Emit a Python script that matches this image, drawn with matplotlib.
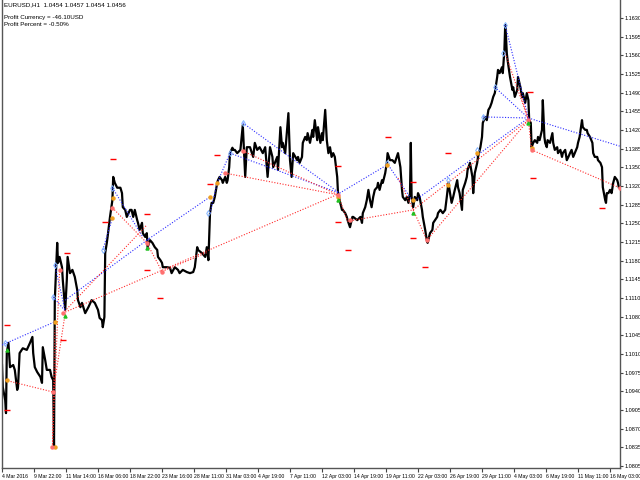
import numpy as np
import matplotlib
matplotlib.use('Agg')
from matplotlib import pyplot as plt

plt.rcParams['font.family'] = ['Liberation Sans Narrow', 'Liberation Sans', 'DejaVu Sans']

# EURUSD H1 path: bar index and price
bars = [0, 1, 4, 5, 6, 8, 10, 14, 16, 19, 20, 22, 26, 31, 35, 38, 39, 41, 44, 48,
        50, 51, 54, 56, 60, 62, 64, 65, 66, 68, 69, 70, 72, 75, 76, 79, 81, 82, 85, 88,
        91, 94, 95, 98, 100, 104, 108, 112, 116, 120, 122, 125, 126, 128, 129, 131, 132, 135, 138, 139,
        141, 144, 148, 150, 151, 154, 156, 160, 162, 164, 166, 169, 170, 172, 175, 176, 179, 181, 182, 185,
        188, 191, 194, 195, 198, 200, 201, 206, 210, 212, 216, 220, 222, 226, 231, 235, 239, 241, 244, 245,
        250, 254, 256, 258, 260, 262, 264, 266, 269, 270, 272, 275, 276, 279, 281, 282, 284, 285, 288, 289,
        291, 294, 298, 301, 304, 306, 310, 314, 316, 319, 322, 326, 329, 331, 332, 335, 338, 339, 344, 345,
        348, 350, 351, 354, 358, 360, 362, 364, 369, 370, 372, 375, 376, 379, 381, 382, 385, 388, 389, 391,
        394, 395, 398, 400, 401, 404, 406, 408, 410, 412, 414, 416, 419, 420, 422, 425, 426, 429, 431, 432,
        435, 438, 439, 444, 448, 450, 451, 454, 456, 458, 460, 462, 464, 466, 469, 470, 472, 475, 476, 479,
        481, 482, 485, 488, 491, 495, 498, 500, 501, 504, 506, 508, 510, 511, 512, 514, 516, 519, 520, 522,
        525, 526, 529, 531, 532, 535, 538, 539, 544, 545, 548, 551, 554, 556, 558, 560, 562, 564, 566, 569,
        570, 572, 575, 576, 579, 581, 582, 585, 588, 589, 591, 594, 595, 598, 600, 601, 604, 606, 608, 610,
        612, 614, 616, 619, 620, 622, 625, 626, 628, 629, 630, 631, 632, 635, 638, 639, 641, 644, 645, 648,
        650, 651, 654, 656, 658, 659, 661, 662, 664, 666, 669, 670, 672, 675, 676, 678, 679, 681, 682, 685,
        688, 689, 691, 694, 695, 698, 700, 701, 704, 706, 708, 710, 712, 714, 716, 719, 720, 722, 725, 726,
        729, 731, 732, 735, 738, 739, 741, 744, 745, 748, 750, 751, 754, 755, 756, 758, 760, 762, 764, 766,
        769, 770, 771]
prices = [1.0988, 1.0947, 1.0923, 1.0899, 1.1010, 1.1029, 1.0984, 1.0988, 1.0979, 1.0942,
          1.0947, 1.1010, 1.1019, 1.1016, 1.1029, 1.1040, 1.1010, 1.0984, 1.0975, 1.0966,
          1.0955, 1.1021, 1.0997, 1.0979, 1.0979, 1.0966, 1.0960, 1.0836, 1.1108, 1.1177,
          1.1214, 1.1177, 1.1188, 1.1169, 1.1145, 1.1090, 1.1145, 1.1188, 1.1158, 1.1164,
          1.1151, 1.1127, 1.1108, 1.1095, 1.1103, 1.1084, 1.1095, 1.1108, 1.1103, 1.1090,
          1.1075, 1.1071, 1.1058, 1.1077, 1.1195, 1.1214, 1.1225, 1.1262, 1.1293, 1.1336,
          1.1325, 1.1316, 1.1316, 1.1306, 1.1280, 1.1275, 1.1262, 1.1275, 1.1275, 1.1262,
          1.1275, 1.1256, 1.1251, 1.1238, 1.1251, 1.1232, 1.1225, 1.1232, 1.1206, 1.1219,
          1.1214, 1.1206, 1.1201, 1.1188, 1.1182, 1.1177, 1.1169, 1.1169, 1.1168, 1.1158,
          1.1169, 1.1164, 1.1158, 1.1164, 1.1160, 1.1158, 1.1160, 1.1169, 1.1206, 1.1201,
          1.1195, 1.1188, 1.1206, 1.1182, 1.1269, 1.1288, 1.1288, 1.1299, 1.1325, 1.1330,
          1.1336, 1.1330, 1.1325, 1.1336, 1.1325, 1.1330, 1.1354, 1.1380, 1.1390, 1.1386,
          1.1386, 1.1380, 1.1386, 1.1432, 1.1336, 1.1391, 1.1391, 1.1373, 1.1399, 1.1386,
          1.1391, 1.1380, 1.1391, 1.1354, 1.1336, 1.1391, 1.1373, 1.1354, 1.1373, 1.1349,
          1.1428, 1.1391, 1.1399, 1.1380, 1.1454, 1.1367, 1.1336, 1.1380, 1.1367, 1.1373,
          1.1362, 1.1373, 1.1399, 1.1410, 1.1404, 1.1417, 1.1399, 1.1423, 1.1410, 1.1441,
          1.1404, 1.1428, 1.1399, 1.1417, 1.1404, 1.1460, 1.1404, 1.1380, 1.1391, 1.1373,
          1.1380, 1.1373, 1.1336, 1.1306, 1.1293, 1.1275, 1.1275, 1.1269, 1.1262, 1.1256,
          1.1243, 1.1262, 1.1262, 1.1256, 1.1262, 1.1251, 1.1269, 1.1280, 1.1293, 1.1312,
          1.1293, 1.1280, 1.1299, 1.1312, 1.1317, 1.1325, 1.1312, 1.1330, 1.1325, 1.1343,
          1.1362, 1.1380, 1.1367, 1.1367, 1.1362, 1.1380, 1.1354, 1.1312, 1.1299, 1.1293,
          1.1299, 1.1288, 1.1306, 1.1399, 1.1299, 1.1280, 1.1299, 1.1293, 1.1306, 1.1299,
          1.1275, 1.1262, 1.1238, 1.1219, 1.1214, 1.1232, 1.1238, 1.1251, 1.1262, 1.1269,
          1.1275, 1.1269, 1.1275, 1.1299, 1.1325, 1.1306, 1.1288, 1.1299, 1.1312, 1.1330,
          1.1317, 1.1306, 1.1275, 1.1312, 1.1325, 1.1336, 1.1349, 1.1362, 1.1336, 1.1306,
          1.1343, 1.1362, 1.1373, 1.1391, 1.1410, 1.1436, 1.1447, 1.1441, 1.1460, 1.1465,
          1.1473, 1.1484, 1.1491, 1.1521, 1.1534, 1.1528, 1.1539, 1.1528, 1.1571, 1.1617,
          1.1595, 1.1565, 1.1552, 1.1521, 1.1497, 1.1502, 1.1484, 1.1497, 1.1521, 1.1502,
          1.1484, 1.1491, 1.1473, 1.1491, 1.1478, 1.1441, 1.1436, 1.1391, 1.1399, 1.1404,
          1.1399, 1.1410, 1.1404, 1.1423, 1.1478, 1.1410, 1.1399, 1.1391, 1.1404, 1.1399,
          1.1417, 1.1399, 1.1386, 1.1391, 1.1380, 1.1386, 1.1373, 1.1380, 1.1386, 1.1367,
          1.1373, 1.1380, 1.1386, 1.1373, 1.1380, 1.1391, 1.1399, 1.1410, 1.1441, 1.1428,
          1.1423, 1.1423, 1.1417, 1.1410, 1.1399, 1.1380, 1.1373, 1.1373, 1.1367, 1.1362,
          1.1354, 1.1317, 1.1293, 1.1288, 1.1306, 1.1306, 1.1312, 1.1306, 1.1325, 1.1336,
          1.1330, 1.1325, 1.1317]

x_labels = ['4 Mar 2016', '9 Mar 22:00', '11 Mar 14:00', '16 Mar 06:00', '18 Mar 22:00',
            '23 Mar 16:00', '28 Mar 11:00', '31 Mar 03:00', '4 Apr 19:00', '7 Apr 11:00',
            '12 Apr 03:00', '14 Apr 19:00', '19 Apr 11:00', '22 Apr 03:00', '26 Apr 19:00',
            '29 Apr 11:00', '4 May 03:00', '6 May 19:00', '11 May 11:00', '16 May 03:00']
y_labels = ['1.0805', '1.0835', '1.0870', '1.0905', '1.0940', '1.0975', '1.1010', '1.1045',
            '1.1080', '1.1110', '1.1145', '1.1180', '1.1215', '1.1250', '1.1285', '1.1320',
            '1.1350', '1.1385', '1.1420', '1.1455', '1.1490', '1.1525', '1.1560', '1.1595',
            '1.1630']

# trade lines: (bar0, price0, bar1, price1)
blue_lines = [(0, 1.1025, 66, 1.1068), (66, 1.1173, 79, 1.1088), (64, 1.1114, 79, 1.1088),
              (79, 1.1108, 185, 1.1223), (181, 1.1219, 260, 1.1299), (126, 1.1201, 138, 1.1260),
              (138, 1.1316, 176, 1.1225), (260, 1.1269, 269, 1.1325), (269, 1.1325, 285, 1.1380),
              (301, 1.1436, 422, 1.1306), (285, 1.1380, 422, 1.1306), (422, 1.1306, 481, 1.1358),
              (481, 1.1362, 514, 1.1290), (514, 1.1290, 658, 1.1445), (601, 1.1447, 658, 1.1445),
              (616, 1.1502, 658, 1.1445), (629, 1.1617, 658, 1.1445), (658, 1.1445, 772, 1.1393)]
red_lines = [(4, 1.0960, 64, 1.0938), (64, 1.0938, 79, 1.1084), (63, 1.0836, 72, 1.1164),
             (63, 1.0836, 66, 1.1053), (76, 1.1084, 420, 1.1304), (76, 1.1084, 181, 1.1247),
             (138, 1.1279, 181, 1.1214), (181, 1.1214, 200, 1.1161), (200, 1.1161, 256, 1.1196),
             (279, 1.1343, 420, 1.1303), (301, 1.1384, 420, 1.1303), (420, 1.1303, 432, 1.1254),
             (432, 1.1254, 514, 1.1275), (495, 1.1334, 514, 1.1275), (514, 1.1275, 531, 1.1219),
             (514, 1.1275, 658, 1.1441), (531, 1.1219, 658, 1.1441), (629, 1.1565, 658, 1.1441),
             (648, 1.1491, 658, 1.1441), (658, 1.1441, 662, 1.1386), (662, 1.1386, 772, 1.1316)]

# stop / target levels (red dashes)
level_bars = [6, 6, 81, 76, 129, 139, 181, 181, 198, 260, 269, 420, 420, 432, 482, 514,
              514, 529, 558, 660, 664, 750]
level_prices = [1.1062, 1.0905, 1.1195, 1.1034, 1.1253, 1.1369, 1.1267, 1.1164, 1.1112,
                1.1323, 1.1377, 1.1356, 1.1253, 1.1201, 1.1410, 1.1327, 1.1223, 1.1169,
                1.1380, 1.1493, 1.1334, 1.1278]
open_bars = [4, 64, 66, 126, 138, 285, 301, 258, 481, 594, 601, 616, 629, 626, 558]
open_prices = [1.1029, 1.1114, 1.1173, 1.1201, 1.1316, 1.1380, 1.1436, 1.1269, 1.1362,
               1.1386, 1.1447, 1.1502, 1.1617, 1.1565, 1.1330]
orange_bars = [6, 66, 66, 138, 139, 260, 269, 420, 481, 514, 558, 594, 662]
orange_prices = [1.0960, 1.1068, 1.0836, 1.1260, 1.1297, 1.1299, 1.1325, 1.1299, 1.1358,
                 1.1293, 1.1321, 1.1380, 1.1389]
close_bars = [64, 63, 72, 76, 138, 181, 200, 279, 301, 420, 435, 531, 658, 662, 772]
close_prices = [1.0938, 1.0836, 1.1164, 1.1084, 1.1279, 1.1214, 1.1161, 1.1343, 1.1384,
                1.1303, 1.1256, 1.1219, 1.1441, 1.1386, 1.1316]
green_bars = [6, 79, 181, 420, 514, 658]
green_prices = [1.1016, 1.1079, 1.1205, 1.1293, 1.1269, 1.1436]

fig = plt.figure(figsize=(6.4, 4.8), dpi=100)
ax = fig.add_axes([2 / 640, 12 / 480, 618 / 640, 468 / 480])

ax.plot(bars, prices, color='black', lw=1.6, zorder=2)

dots = (0, (1, 1.5))
for x0, y0, x1, y1 in blue_lines:
    ax.plot([x0, x1], [y0, y1], color='#2b2bff', lw=0.8, ls=dots, zorder=3)
for x0, y0, x1, y1 in red_lines:
    ax.plot([x0, x1], [y0, y1], color='#ff2b2b', lw=0.8, ls=dots, zorder=3)

ax.plot(level_bars, level_prices, ls='none', marker='_', ms=5, mew=1, color='red', zorder=4)
ax.plot(open_bars, open_prices, ls='none', marker='d', ms=3, mfc='none', mew=0.7,
        mec='#7fb2ff', zorder=4)
ax.plot(orange_bars, orange_prices, ls='none', marker='o', ms=2.2, color='#f0a020', zorder=4)
ax.plot(close_bars, close_prices, ls='none', marker='o', ms=2.2, color='#ff7070', zorder=4)
ax.plot(green_bars, green_prices, ls='none', marker='^', ms=2.2, color='#20c020', zorder=4)

ax.set_xlim(0, 772.5)
ax.set_ylim(1.07975, 1.16633)

ax.set_xticks(np.arange(0, 800, 40))
ax.set_xticklabels(x_labels, ha='left', fontsize=3.7)
ax.set_yticks(np.linspace(1.0801, 1.1630, 25))
ax.set_yticklabels(y_labels, fontsize=4.0)
ax.yaxis.tick_right()
ax.tick_params(axis='x', length=3, width=0.8, pad=1.5, color='#444444')
ax.tick_params(axis='y', length=2, width=0.8, pad=1, color='#444444')

ax.spines['top'].set_visible(False)
for side in ['left', 'right', 'bottom']:
    ax.spines[side].set_color('#555555')
    ax.spines[side].set_linewidth(1)

fig.text(4 / 640, 1 - 2 / 480, 'EURUSD,H1  1.0454 1.0457 1.0454 1.0456', fontsize=4.5, va='top')
fig.text(4 / 640, 1 - 15 / 480, 'Profit Currency = -46.10USD', fontsize=4.5, va='top')
fig.text(4 / 640, 1 - 22 / 480, 'Profit Percent = -0.50%', fontsize=4.5, va='top')

fig.savefig('out.png', dpi=100)
